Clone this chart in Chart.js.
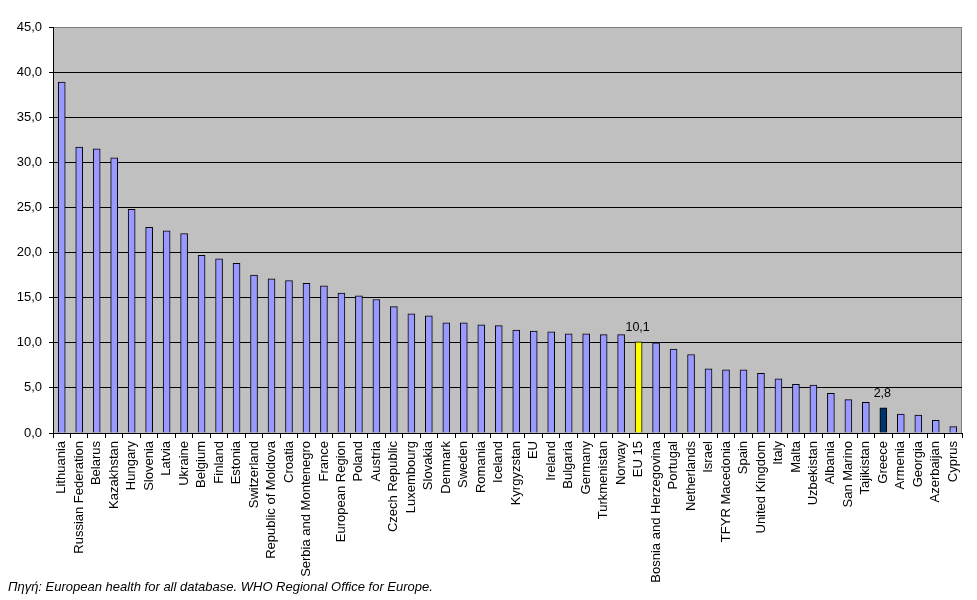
<!DOCTYPE html>
<html>
<head>
<meta charset="utf-8">
<script src="https://cdn.jsdelivr.net/npm/chart.js@4"></script>
<style>
  body { margin: 0; background: #fff; }
  #wrap { position: relative; width: 977px; height: 600px; overflow: hidden; }
  #source { position: absolute; left: 8px; top: 579px; font: italic 13px "Liberation Sans", Arial, sans-serif; color: #000; white-space: nowrap; }
</style>
</head>
<body>
<div id="wrap">
  <canvas id="chart" width="977" height="600"></canvas>
  <div id="source">Πηγή: European health for all database. WHO Regional Office for Europe.</div>
</div>
<script>
var countries = ["Lithuania", "Russian Federation", "Belarus", "Kazakhstan", "Hungary", "Slovenia", "Latvia", "Ukraine",
  "Belgium", "Finland", "Estonia", "Switzerland", "Republic of Moldova", "Croatia", "Serbia and Montenegro", "France",
  "European Region", "Poland", "Austria", "Czech Republic", "Luxembourg", "Slovakia", "Denmark", "Sweden", "Romania",
  "Iceland", "Kyrgyzstan", "EU", "Ireland", "Bulgaria", "Germany", "Turkmenistan", "Norway", "EU 15",
  "Bosnia and Herzegovina", "Portugal", "Netherlands", "Israel", "TFYR Macedonia", "Spain", "United Kingdom", "Italy",
  "Malta", "Uzbekistan", "Albania", "San Marino", "Tajikistan", "Greece", "Armenia", "Georgia", "Azerbaijan", "Cyprus"];

var values = [38.9, 31.7, 31.5, 30.5, 24.8, 22.8, 22.4, 22.1,
  19.7, 19.3, 18.8, 17.5, 17.1, 16.9, 16.6, 16.3,
  15.5, 15.2, 14.8, 14.0, 13.2, 13.0, 12.2, 12.2, 12.0,
  11.9, 11.4, 11.3, 11.2, 11.0, 11.0, 10.9, 10.9, 10.1,
  10.0, 9.3, 8.7, 7.1, 7.0, 7.0, 6.6, 6.0,
  5.4, 5.3, 4.4, 3.7, 3.4, 2.8, 2.1, 2.0, 1.4, 0.7];

var yTicks = [0, 5, 10, 15, 20, 25, 30, 35, 40, 45];

// bars that get a colour of their own and a value label
var highlighted = ["EU 15", "Greece"];
var highlightColors = ["#FFFF00", "#003366"];

var barColors = countries.map(function (c) {
  var k = highlighted.indexOf(c);
  return k >= 0 ? highlightColors[k] : "#9999FF";
});

function comma(v) {
  return v.toFixed(1).replace(".", ",");
}

var plotBackground = {
  id: "plotBackground",
  beforeDraw: function (chart) {
    var a = chart.chartArea, ctx = chart.ctx;
    ctx.save();
    ctx.fillStyle = "#C0C0C0";
    ctx.fillRect(a.left, a.top, a.right - a.left, a.bottom - a.top);
    ctx.strokeStyle = "#808080";
    ctx.lineWidth = 1;
    ctx.strokeRect(a.left + 0.5, a.top + 0.5, a.right - a.left - 1, a.bottom - a.top);
    ctx.restore();
  }
};

var valueLabels = {
  id: "valueLabels",
  afterDatasetsDraw: function (chart) {
    var ctx = chart.ctx;
    var meta = chart.getDatasetMeta(0);
    ctx.save();
    ctx.font = "12.5px 'Liberation Sans', Arial, sans-serif";
    ctx.fillStyle = "#000";
    ctx.textAlign = "center";
    ctx.textBaseline = "bottom";
    highlighted.forEach(function (name) {
      var i = countries.indexOf(name);
      var bar = meta.data[i];
      ctx.fillText(comma(values[i]), bar.x - 1, bar.y - 8);
    });
    ctx.restore();
  }
};

new Chart(document.getElementById("chart"), {
  type: "bar",
  data: {
    labels: countries,
    datasets: [{
      data: values,
      backgroundColor: barColors,
      borderColor: "#000",
      borderWidth: 1,
      barThickness: 7
    }]
  },
  options: {
    responsive: false,
    animation: false,
    layout: { padding: { top: 27, right: 15, left: 0, bottom: 0 } },
    plugins: {
      legend: { display: false },
      tooltip: { enabled: false }
    },
    scales: {
      x: {
        afterFit: function (scale) { scale.height = 167; },
        grid: {
          drawOnChartArea: false,
          drawTicks: true,
          tickLength: 5,
          tickColor: "#000",
          offset: true
        },
        border: { display: true, color: "#000" },
        ticks: {
          autoSkip: false,
          maxRotation: 90,
          minRotation: 90,
          padding: 3,
          color: "#000",
          font: { family: "'Liberation Sans', Arial, sans-serif", size: 13 }
        }
      },
      y: {
        min: 0,
        max: 45,
        afterFit: function (scale) { scale.width = 53; },
        afterBuildTicks: function (scale) {
          scale.ticks = yTicks.map(function (v) { return { value: v }; });
        },
        grid: {
          color: function (ctx) { return ctx.tick && ctx.tick.value === 45 ? "#808080" : "#000"; },
          tickColor: "#000",
          tickLength: 4
        },
        border: { display: true, color: "#000" },
        ticks: {
          padding: 7,
          color: "#000",
          font: { family: "'Liberation Sans', Arial, sans-serif", size: 13 },
          callback: function (v) { return comma(v); }
        }
      }
    }
  },
  plugins: [plotBackground, valueLabels]
});
</script>
</body>
</html>
